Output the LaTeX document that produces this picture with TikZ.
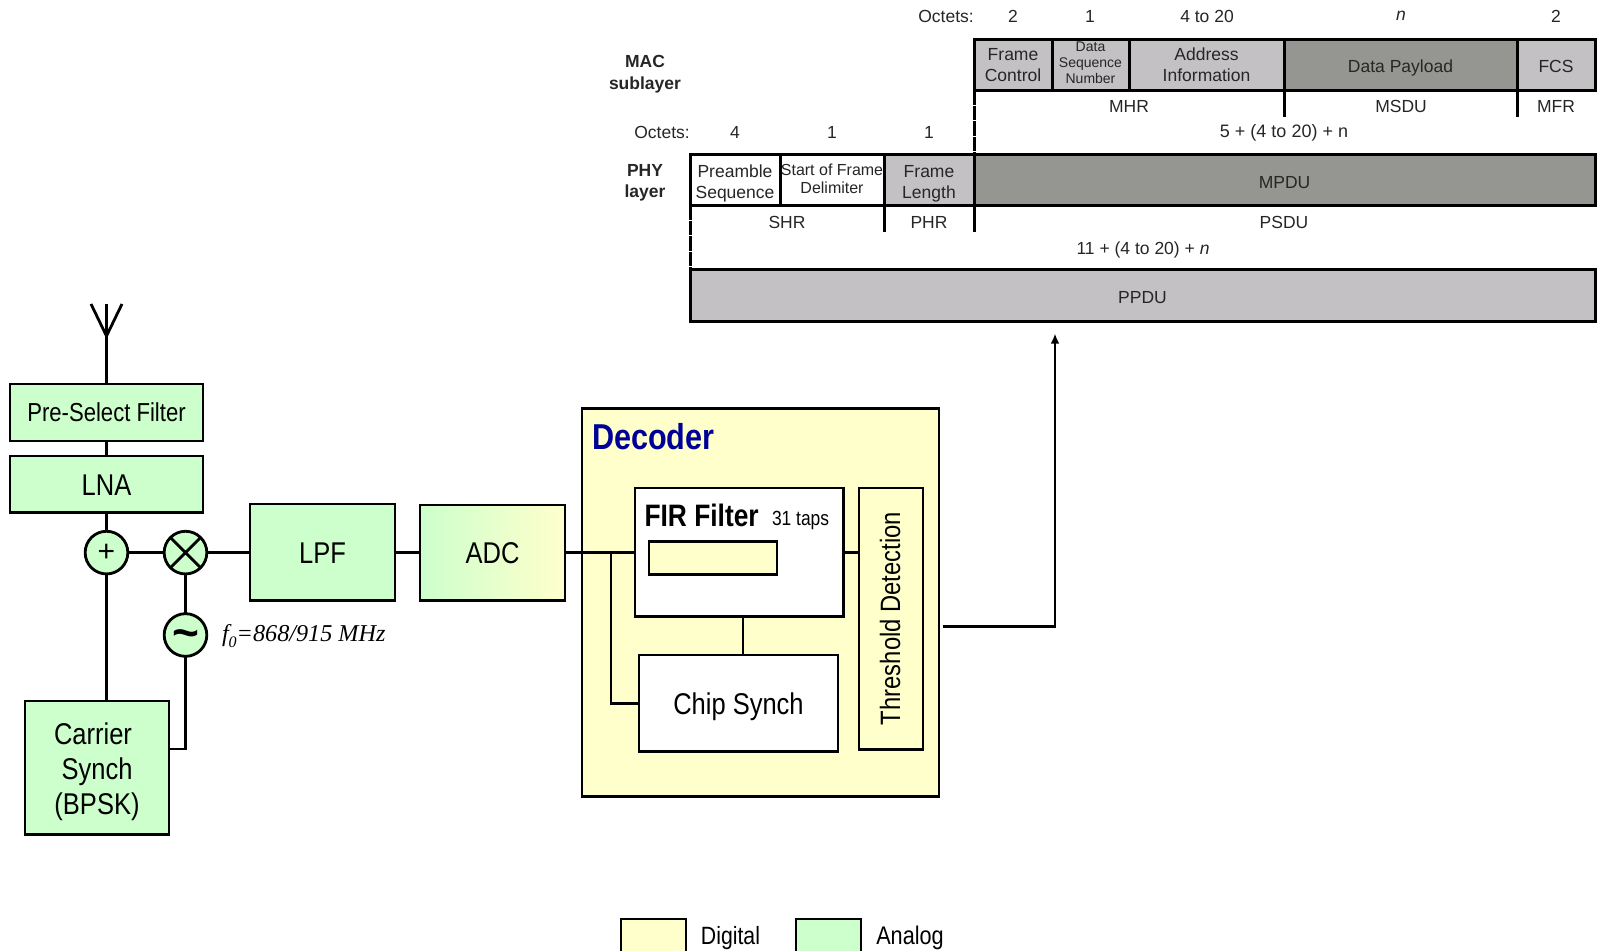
\documentclass[tikz,border=0pt]{standalone}
\usepackage{fontspec}
\setmainfont{Liberation Sans}
\newfontfamily\narrowf[FakeStretch=0.85]{Liberation Sans}
\newfontfamily\seriff{Liberation Serif}
\usetikzlibrary{arrows.meta}
\definecolor{agreen}{HTML}{CCFFCC}
\definecolor{dyellow}{HTML}{FFFFCC}
\definecolor{lgrey}{HTML}{C3C1C4}
\definecolor{dgrey}{HTML}{959692}
\definecolor{txtgrey}{HTML}{262626}
\definecolor{decblue}{HTML}{000099}
\newcommand{\fs}[2]{\fontsize{\dimexpr#1pt*3/4\relax}{\dimexpr#2pt*3/4\relax}\selectfont}
\newcommand{\up}[1]{\rule{0pt}{#1pt}}
\newcommand{\dn}[1]{\rule[-#1pt]{0pt}{#1pt}}
% name, x1, y1, x2, y2, style, text
\newcommand{\bx}[7]{%
  \pgfmathsetmacro\cxx{(#2+#4)/2}%
  \pgfmathsetmacro\cyy{(#3+#5)/2}%
  \pgfmathsetmacro\www{(#4-#2)*0.75}%
  \pgfmathsetmacro\hhh{(#5-#3)*0.75}%
  \node[#6,minimum width=\www pt,minimum height=\hhh pt] (#1) at (\cxx,\cyy) {#7};%
}
\tikzset{
  x=0.75pt,y=-0.75pt,
  every node/.style={inner sep=0pt,outer sep=0pt,align=center},
  blk/.style={draw=black,line width=2.1pt,font=\narrowf\fs{30}{35}},
  ablk/.style={blk,fill=agreen},
  dblk/.style={blk,fill=dyellow},
  wblk/.style={blk,fill=white},
  wire/.style={draw=black,line width=2.1pt},
  fld/.style={draw=black,line width=2.25pt,text=txtgrey,font=\fs{17.5}{21}},
  fldw/.style={fld,fill=white},
  fldl/.style={fld,fill=lgrey},
  fldd/.style={fld,fill=dgrey},
  lab/.style={text=txtgrey,font=\fs{17.5}{21}},
  lay/.style={lab,font=\bfseries\fs{17.5}{21.5}},
  tick/.style={draw=black,line width=2.25pt},
  ring/.style={circle,draw=black,line width=2.1pt,fill=agreen,minimum size=32pt},
}
\begin{document}
\begin{tikzpicture}
\useasboundingbox (0,0) rectangle (1603,950);
% ---------- frame structure ----------
\node[lab] (oct1) at (946,16) {Octets:};
\node[lab] (o1a) at (1013,16) {2};
\node[lab] (o1b) at (1090,16) {1};
\node[lab] (o1c) at (1207,16) {4 to 20};
\node[lab] (o1d) at (1401,16) {\itshape n};
\node[lab] (o1e) at (1556,16) {2};
\node[lay] (mac) at (645,74) {MAC\\sublayer};
\bx{fc}{974}{39}{1052}{90}{fldl}{\up{10}Frame\\Control}
\bx{dsn}{1052}{39}{1129}{90}{fldl,font=\fs{14}{16}}{Data\\Sequence\\Number\dn{3}}
\bx{addr}{1129}{39}{1284}{90}{fldl}{\up{10}Address\\Information}
\bx{pay}{1284}{39}{1517}{90}{fldd}{\up{14}Data Payload}
\bx{fcs}{1517}{39}{1595}{90}{fldl}{\up{12.5}FCS}
\node[lab] (mhr) at (1129,106) {MHR};
\node[lab] (msdu) at (1401,106) {MSDU};
\node[lab] (mfr) at (1556,106) {MFR};
\node[lab,font=\fs{18}{21}] (sum1) at (1284,133) {5 + (4 to 20) + n};
\node[lab] (oct2) at (662,132) {Octets:};
\node[lab] (o2a) at (735,132) {4};
\node[lab] (o2b) at (832,132) {1};
\node[lab] (o2c) at (929,132) {1};
\node[lay] (phy) at (645,183) {PHY\\layer};
\bx{pre}{690}{154.5}{780}{205}{fldw}{\up{15.5}Preamble\\Sequence}
\bx{sfd}{780}{154.5}{884}{205}{fldw,font=\fs{16}{18}}{Start of Frame\\Delimiter\dn{1.5}}
\bx{flen}{884}{154.5}{974}{205}{fldl}{\up{15.5}Frame\\Length}
\bx{mpdu}{974}{154.5}{1595}{205}{fldd}{\up{13}MPDU}
\node[lab] (shr) at (787,222) {SHR};
\node[lab] (phr) at (929,222) {PHR};
\node[lab] (psdu) at (1284,222) {PSDU};
\node[lab] (sum2) at (1143,250) {11 + (4 to 20) + {\itshape n}};
\bx{ppdu}{690}{269}{1595}{321}{fldl}{\up{12.5}PPDU}
% brackets
\draw[tick,dash pattern=on 11pt off 0.7pt] (fc.south west) -- (flen.north east);
\draw[tick] (flen.south west) -- ++(0,27);
\draw[tick] (flen.south east) -- ++(0,27);
\draw[tick,dash pattern=on 11pt off 0.7pt] (pre.south west) -- (ppdu.north west);
\draw[tick] (addr.south east) -- ++(0,27);
\draw[tick] (pay.south east) -- ++(0,27);
% ---------- receiver ----------
\bx{psf}{10}{384}{203}{441}{ablk,font=\narrowf\fs{26}{30}}{Pre-Select Filter}
\bx{lna}{10}{456}{203}{512.5}{ablk}{\up{17}LNA}
\node[ring,font=\fs{30}{30}] (plus) at (106.5,552.6) {+};
\node[ring] (mix) at (185.5,552.6) {};
\node[ring,font=\bfseries\fs{46}{46}] (osc) at (185.5,635) {\up{20.5}\textasciitilde};
\draw[wire] (mix.45) -- (mix.225) (mix.135) -- (mix.-45);
\bx{lpf}{250}{504}{395}{600.5}{ablk}{\up{17}LPF}
\bx{adc}{420}{505}{565}{600.5}{blk,left color=agreen,right color=dyellow,middle color=agreen!50!dyellow}{ADC}
\bx{car}{25}{701}{169}{834.5}{ablk}{\up{22}\hspace*{-6pt}Carrier\\Synch\\(BPSK)}
\node[text=black,anchor=west,font=\seriff\itshape\fs{24.2}{25}] (f0) at (222,636) {f\raisebox{-0.28em}{\fs{16}{16}0}=868/915 MHz};
% antenna
\coordinate (antj) at (106.5,336);
\coordinate (antl) at (91,304);
\coordinate (antr) at (122,304);
\coordinate (antt) at (106.5,304);
\draw[wire] (antl) -- (antj) -- (antr);
\draw[wire] (psf.north) -- (antt);
\draw[wire] (psf) -- (lna);
\draw[wire] (lna.south -| plus) -- (plus);
\draw[wire] (plus) -- (mix);
\draw[wire] (mix) -- (lpf.west |- mix);
\draw[wire] (mix) -- (osc);
\draw[wire] (plus) -- (plus |- car.north);
\coordinate (carj) at (169,749);
\draw[wire] (osc) |- (carj);
\draw[wire] (lpf) -- (adc);
% decoder
\bx{dec}{582}{408.5}{939}{796.5}{dblk}{}
\node[anchor=west,text=decblue,font=\narrowf\bfseries\fs{36}{36}] (dect) at (592,437) {Decoder};
\bx{fir}{635}{488}{843.5}{616.5}{wblk}{}
\node[anchor=west,font=\narrowf\bfseries\fs{31}{31}] (firt) at (644.5,515) {FIR Filter};
\node[anchor=west,font=\narrowf\fs{20.5}{20.5}] (tap) at (772,520) {31 taps};
\bx{tapb}{649}{541.5}{777}{574.5}{dblk}{}
\bx{chip}{639}{655}{838}{751.5}{wblk}{\up{21}Chip Synch}
\bx{thr}{859}{488}{923}{749.5}{dblk}{}
\node[rotate=90,font=\narrowf\fs{28}{28}] (thrt) at (890,618.5) {Threshold Detection};
\coordinate (br) at (611,552.5);
\draw[wire] (adc.east) -- (adc.east -| fir.west);
\draw[wire] (br) |- (chip.west);
\draw[wire] (fir.south -| 743,0) -- (chip.north -| 743,0);
\draw[wire] (fir.east |- br) -- (thr.west |- br);
\coordinate (out) at (942.5,626.6);
\coordinate (ppin) at (1055,333.5);
\draw[wire,-{Latex[length=7.5pt,width=6.5pt]}] (out) -| (ppin);
% legend
\bx{legd}{621}{919}{686}{970}{dblk}{}
\node[font=\narrowf\fs{25}{25}] (legdt) at (730.5,938) {Digital};
\bx{lega}{796}{919}{861}{970}{ablk}{}
\node[font=\narrowf\fs{25.5}{25.5}] (legat) at (910,938) {Analog};
\end{tikzpicture}
\end{document}
